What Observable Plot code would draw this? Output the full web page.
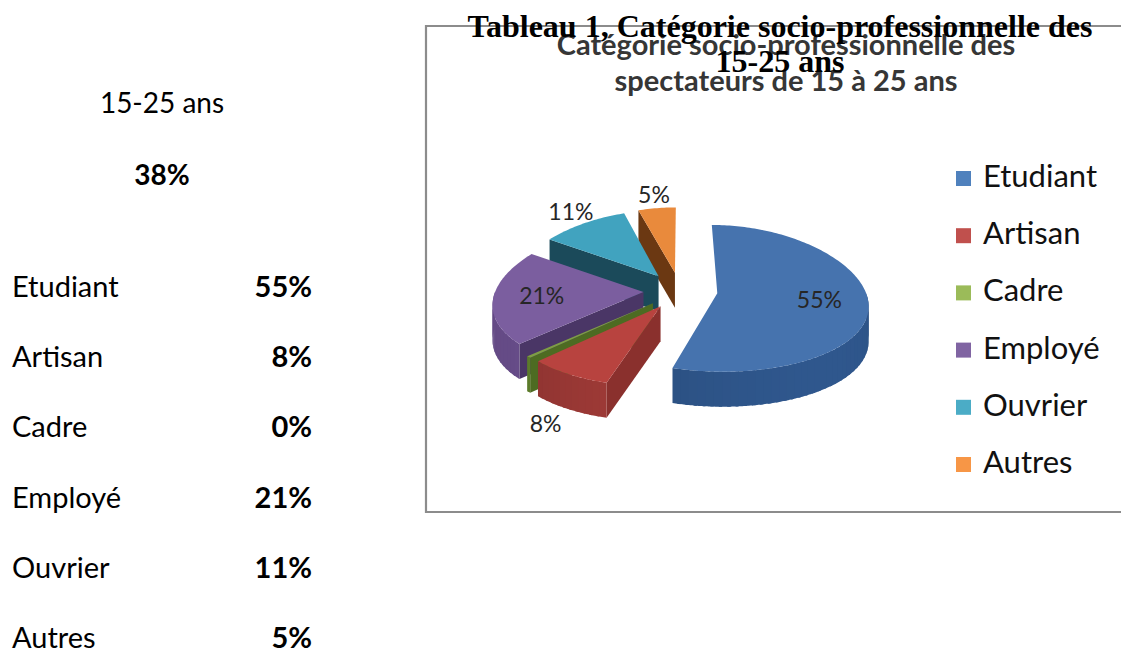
<!DOCTYPE html>
<html><head><meta charset="utf-8">
<script src="https://cdn.jsdelivr.net/npm/d3@7"></script>
<script src="https://cdn.jsdelivr.net/npm/@observablehq/plot@0.6"></script>
<style>
html,body{margin:0;padding:0;background:#fff;}
#page{position:relative;width:1121px;height:653px;overflow:hidden;background:#fff;}
#page svg{position:absolute;overflow:visible;}
</style></head>
<body><div id="page"></div>
<script>
// ---- data ----
const categories = ["Etudiant", "Artisan", "Cadre", "Employé", "Ouvrier", "Autres"];
const values = [55, 8, 0, 21, 11, 5];
const groupLabel = "15-25 ans";
const groupShare = 38;
const docTitle = ["Tableau 1, Catégorie socio-professionnelle des", "15-25 ans"];
const chartTitle = ["Catégorie socio-professionnelle des", "spectateurs de 15 à 25 ans"];
const topColors  = ["#4673AE", "#B8433F", "#7E9E44", "#7B5E9F", "#41A3BF", "#E98A3C"];
const wallColors = ["#284A78", "#8E3431", "#5A7A2A", "#654B86", "#23627A", "#7A4317"];
const cutColors  = ["#24436E", "#8A302D", "#4D6B22", "#4A3666", "#1B4A5A", "#6B3812"];
const legendColors = ["#4F81BD", "#C0504D", "#9BBB59", "#8064A2", "#4BACC6", "#F79646"];

const W = 1121, H = 653;
const page = d3.select("#page");

// ---- background layer: table, frame, chart title, legend ----
const bg = page.append("svg").attr("width", W).attr("height", H).style("left", 0).style("top", 0);
const sans = "Lato, 'Open Sans', sans-serif";

bg.append("text").attr("x", 162).attr("y", 113).attr("text-anchor", "middle")
  .attr("font-family", sans).attr("font-size", 28).text(groupLabel);
bg.append("text").attr("x", 162).attr("y", 185).attr("text-anchor", "middle")
  .attr("font-family", sans).attr("font-size", 28).attr("font-weight", "bold").text(groupShare + "%");

const rowY = i => 297 + i * 70.2;
categories.forEach((c, i) => {
  bg.append("text").attr("x", 12).attr("y", rowY(i)).attr("font-family", sans).attr("font-size", 29).text(c);
  bg.append("text").attr("x", 312).attr("y", rowY(i)).attr("text-anchor", "end")
    .attr("font-family", sans).attr("font-size", 29).attr("font-weight", "bold").text(values[i] + "%");
});

bg.append("path").attr("d", "M1130,26H426V512H1130").attr("fill", "none")
  .attr("stroke", "#8c8c8c").attr("stroke-width", 2.2);

chartTitle.forEach((t, i) => {
  bg.append("text").attr("x", 786).attr("y", 55 + i * 36).attr("text-anchor", "middle")
    .attr("font-family", sans).attr("font-size", 29).attr("font-weight", "bold")
    .attr("fill", "#363636").text(t);
});

const legY = i => 187 + i * 57.2;
categories.forEach((c, i) => {
  bg.append("rect").attr("x", 956).attr("y", legY(i) - 16).attr("width", 15).attr("height", 15)
    .attr("fill", legendColors[i]);
  bg.append("text").attr("x", 983).attr("y", legY(i)).attr("font-family", sans)
    .attr("font-size", 31).attr("fill", "#111").text(c);
});

// ---- 3-D exploded pie with Plot ----
const PX = 425, PY = 26, PW = 696, PH = 487;
const CX = 680 - PX, CY = 290 - PY;
const RX = 148, RY = 73, K = 0.15, K2 = 0.07, DEPTH = 35, E = 0.25;
const slices = categories.map((c, i) => ({cat: c, value: values[i], i}));
const arcs = d3.pie().sort(null).value(d => Math.max(d.value, 0.45))(slices);
const proj = (u, v, z) => [u * RX * (1 + K * v), v * RY * (1 + K2 * v) + z];
const samp = (t0, t1, step = 0.02) => { const n = Math.max(2, Math.ceil((t1 - t0) / step)); return d3.range(n + 1).map(k => t0 + (t1 - t0) * k / n); };

const rows = [];
let pid = 0;
const addPoly = (pts, color) => { pts.forEach(([x, y]) => rows.push({id: pid, x, y, c: color})); pid++; };
const labels = [];

arcs.map(a => ({a, m: (a.startAngle + a.endAngle) / 2}))
  .sort((p, q) => (-Math.cos(p.m)) - (-Math.cos(q.m)))
  .forEach(({a, m}) => {
    const i = a.data.i, a0 = a.startAngle, a1 = a.endAngle;
    const ox = E * Math.sin(m), oy = -E * Math.cos(m);
    const pt = (th, r, z) => proj(ox + r * Math.sin(th), oy - r * Math.cos(th), z);
    if (Math.sin(a0) < -1e-6) addPoly([pt(a0, 0, 0), pt(a0, 1, 0), pt(a0, 1, DEPTH), pt(a0, 0, DEPTH)], cutColors[i]);
    if (Math.sin(a1) > 1e-6) addPoly([pt(a1, 0, 0), pt(a1, 1, 0), pt(a1, 1, DEPTH), pt(a1, 0, DEPTH)], cutColors[i]);
    const w0 = Math.max(a0, Math.PI / 2), w1 = Math.min(a1, 3 * Math.PI / 2);
    if (w1 > w0) {
      const ts = samp(w0, w1, 0.05);
      for (let k = 0; k < ts.length - 1; k++) {
        const end = Math.min(w1, ts[k + 1] + 0.02);
        const seg = samp(ts[k], end, 0.01);
        const mid = (ts[k] + ts[k + 1]) / 2;
        const shade = 0.45 * Math.max(0, Math.cos(mid - 2.5));
        const col = d3.color(wallColors[i]).brighter(shade).formatHex();
        addPoly([...seg.map(t => pt(t, 1, 0)), ...seg.slice().reverse().map(t => pt(t, 1, DEPTH))], col);
      }
    }
    addPoly([pt(0, 0, 0), ...samp(a0, a1).map(t => pt(t, 1, 0))], topColors[i]);
    if (a.data.value > 0) {
      const inside = a.data.value >= 15;
      const r = inside ? 0.68 : 1.22;
      const [lx, ly] = pt(m, r, 0);
      labels.push({x: lx, y: ly + (!inside && Math.cos(m) < 0 ? DEPTH : 0), text: a.data.value + "%"});
    }
  });

const chart = Plot.plot({
  width: PW, height: PH,
  margin: 0,
  x: {domain: [-CX, PW - CX], range: [0, PW], axis: null},
  y: {domain: [-CY, PH - CY], range: [0, PH], axis: null},
  color: {type: "identity"},
  style: {background: "transparent", overflow: "visible"},
  marks: [
    Plot.line(rows, {x: "x", y: "y", z: "id", fill: "c", stroke: "none", curve: "linear"}),
    Plot.text(labels, {x: "x", y: "y", text: "text", fontSize: 23, fontFamily: sans, fill: "#262626"})
  ]
});
d3.select(chart).style("left", PX + "px").style("top", PY + "px");
page.node().appendChild(chart);

// ---- foreground: document caption overlapping the chart ----
const fg = page.append("svg").attr("width", W).attr("height", H).style("left", 0).style("top", 0).style("pointer-events", "none");
docTitle.forEach((t, i) => {
  fg.append("text").attr("x", 780).attr("y", 37 + i * 35).attr("text-anchor", "middle")
    .attr("font-family", "'Liberation Serif', 'Times New Roman', serif").attr("font-size", 32)
    .attr("font-weight", "bold").attr("fill", "#000").text(t);
});
</script>
</body></html>
